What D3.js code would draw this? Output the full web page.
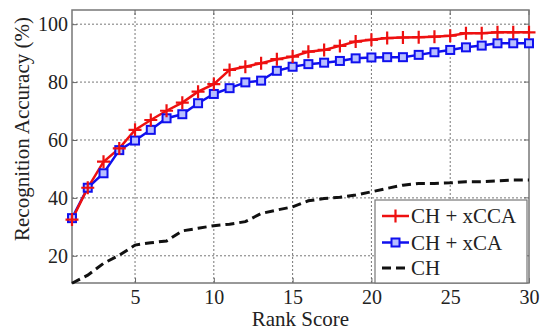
<!DOCTYPE html>
<html>
<head>
<meta charset="utf-8">
<script src="https://cdn.jsdelivr.net/npm/d3@7"></script>
<style>
	body { margin: 0; background: #fff; }
	svg text { fill: #222; }
</style>
</head>
<body>
<div class="chart"></div>
<script>

// data

const ranks = d3.range(1, 31);

const xccaValues = [32.5, 43.5, 52.5, 57.1, 63.5, 66.9, 70.1, 72.9, 76.7, 79.3,
					84.2, 85.3, 86.5, 87.9, 88.8, 90.5, 91.1, 92.5, 94.0, 94.6,
					95.2, 95.4, 95.5, 95.7, 96.0, 96.9, 96.9, 97.2, 97.2, 97.2];

const xcaValues = [33.0, 43.5, 48.5, 56.5, 59.8, 63.5, 67.5, 68.9, 72.7, 75.9,
				   77.9, 79.9, 80.5, 83.9, 85.3, 86.2, 86.7, 87.3, 88.2, 88.5,
				   88.6, 88.6, 89.4, 90.3, 91.1, 92.0, 92.6, 93.4, 93.4, 93.4];

const chValues = [10.5, 13.3, 17.4, 20.2, 23.7, 24.5, 25.1, 28.6, 29.5, 30.4,
				  30.9, 31.8, 34.6, 35.8, 36.9, 39.0, 39.8, 40.2, 41.0, 42.1,
				  43.3, 44.4, 45.0, 45.0, 45.2, 45.6, 45.6, 45.9, 46.2, 46.2];

const seriesNames = ["CH + xCCA", "CH + xCA", "CH"];

const xTicks = [5, 10, 15, 20, 25, 30];
const yTicks = [20, 40, 60, 80, 100];

// serif stack - first one that is installed wins
const serif = "'Liberation Serif', Tinos, 'Nimbus Roman', 'Nimbus Roman No9 L', 'Noto Serif', 'DejaVu Serif', FreeSerif, Times, serif";

// svg container size

const width = 540,
	  height = 332;

const margin = { top: 10, right: 11, bottom: 49, left: 72 };

const svg = d3.select(".chart")
			.append("svg")
			.attr("width", width)
			.attr("height", height)
			.style("font-family", serif);

// scales

const x = d3.scaleLinear()
			.domain([1, 30])
			.range([margin.left, width - margin.right]);

const y = d3.scaleLinear()
			.domain([10.6, 104.9])
			.range([height - margin.bottom, margin.top]);

const x0 = x.range()[0], x1 = x.range()[1],
	  y0 = y.range()[0], y1 = y.range()[1];

// dotted grid

const grid = svg.append("g")
				.attr("stroke", "#777")
				.attr("stroke-width", 1)
				.attr("stroke-dasharray", "2,2");

grid.selectAll(".gx")
	.data(xTicks.filter(d => d < 30))
	.enter()
		.append("line")
		.attr("x1", d => x(d)).attr("x2", d => x(d))
		.attr("y1", y0).attr("y2", y1);

grid.selectAll(".gy")
	.data(yTicks)
	.enter()
		.append("line")
		.attr("x1", x0).attr("x2", x1)
		.attr("y1", d => y(d)).attr("y2", d => y(d));

// axes (ticks inside, matlab style)

const xAxis = d3.axisBottom(x)
				.tickValues(xTicks)
				.tickSizeInner(-5)
				.tickSizeOuter(0)
				.tickPadding(7);

const yAxis = d3.axisLeft(y)
				.tickValues(yTicks)
				.tickSizeInner(-5)
				.tickSizeOuter(0)
				.tickPadding(4);

const gx = svg.append("g")
			  .attr("transform", `translate(0,${y0})`)
			  .call(xAxis);

const gy = svg.append("g")
			  .attr("transform", `translate(${x0},0)`)
			  .call(yAxis);

[gx, gy].forEach(g => {
	g.attr("font-family", null).attr("font-size", 20);
	g.select(".domain").remove();
	g.selectAll("line").attr("stroke", "#666");
	g.selectAll("text").attr("fill", "#222");
});

// mirrored ticks on top and right

svg.append("g")
	.selectAll("line")
	.data(xTicks)
	.enter()
		.append("line")
		.attr("x1", d => x(d)).attr("x2", d => x(d))
		.attr("y1", y1).attr("y2", y1 + 5)
		.attr("stroke", "#666");

svg.append("g")
	.selectAll("line")
	.data(yTicks)
	.enter()
		.append("line")
		.attr("x1", x1).attr("x2", x1 - 5)
		.attr("y1", d => y(d)).attr("y2", d => y(d))
		.attr("stroke", "#666");

// frame

svg.append("rect")
	.attr("x", x0)
	.attr("y", y1)
	.attr("width", x1 - x0)
	.attr("height", y0 - y1)
	.attr("fill", "none")
	.attr("stroke", "#777")
	.attr("stroke-width", 1.5);

// axis titles

svg.append("text")
	.attr("x", (x0 + x1) / 2)
	.attr("y", 326)
	.attr("text-anchor", "middle")
	.attr("font-size", 21)
	.text("Rank Score");

svg.append("text")
	.attr("transform", "translate(29,129) rotate(-90)")
	.attr("text-anchor", "middle")
	.attr("font-size", 21)
	.text("Recognition Accuracy (%)");

// lines

const line = d3.line()
			   .x((d, i) => x(ranks[i]))
			   .y(d => y(d));

svg.append("path")
	.datum(chValues)
	.attr("d", line)
	.attr("fill", "none")
	.attr("stroke", "#111")
	.attr("stroke-width", 3)
	.attr("stroke-dasharray", "9,5");

svg.append("path")
	.datum(xcaValues)
	.attr("d", line)
	.attr("fill", "none")
	.attr("stroke", "#1010ee")
	.attr("stroke-width", 2.5);

svg.append("path")
	.datum(xccaValues)
	.attr("d", line)
	.attr("fill", "none")
	.attr("stroke", "#ee1010")
	.attr("stroke-width", 2.5);

// markers

const plus = (g, cx, cy, s) => {
	g.append("path")
		.attr("d", `M${cx - s},${cy}H${cx + s}M${cx},${cy - s}V${cy + s}`)
		.attr("stroke", "#ee1010")
		.attr("stroke-width", 2.2);
};

const square = (g, cx, cy, s) => {
	g.append("rect")
		.attr("x", cx - s).attr("y", cy - s)
		.attr("width", 2 * s).attr("height", 2 * s)
		.attr("fill", "#b8bfff")
		.attr("stroke", "#1010ee")
		.attr("stroke-width", 2);
};

const squareLayer = svg.append("g");
xcaValues.forEach((d, i) => square(squareLayer, x(ranks[i]), y(d), 4));

const plusLayer = svg.append("g");
xccaValues.forEach((d, i) => plus(plusLayer, x(ranks[i]), y(d), 6.5));

// legend

const legend = svg.append("g");

legend.append("rect")
	.attr("x", 375)
	.attr("y", 200)
	.attr("width", 152)
	.attr("height", 83)
	.attr("fill", "#fff")
	.attr("stroke", "#777")
	.attr("stroke-width", 1.2);

const rowY = [216, 242.5, 268];

seriesNames.forEach((name, i) => {
	const cy = rowY[i];
	if (i === 0) {
		legend.append("line")
			.attr("x1", 382).attr("x2", 409).attr("y1", cy).attr("y2", cy)
			.attr("stroke", "#ee1010").attr("stroke-width", 2.5);
		plus(legend, 395.5, cy, 6.5);
	} else if (i === 1) {
		legend.append("line")
			.attr("x1", 382).attr("x2", 409).attr("y1", cy).attr("y2", cy)
			.attr("stroke", "#1010ee").attr("stroke-width", 2.5);
		square(legend, 395.5, cy, 4);
	} else {
		legend.append("line")
			.attr("x1", 382).attr("x2", 409).attr("y1", cy).attr("y2", cy)
			.attr("stroke", "#111").attr("stroke-width", 3)
			.attr("stroke-dasharray", "9,5");
	}
	legend.append("text")
		.attr("x", 411)
		.attr("y", cy)
		.attr("dy", "0.35em")
		.attr("font-size", 21)
		.text(name);
});

</script>
</body>
</html>
